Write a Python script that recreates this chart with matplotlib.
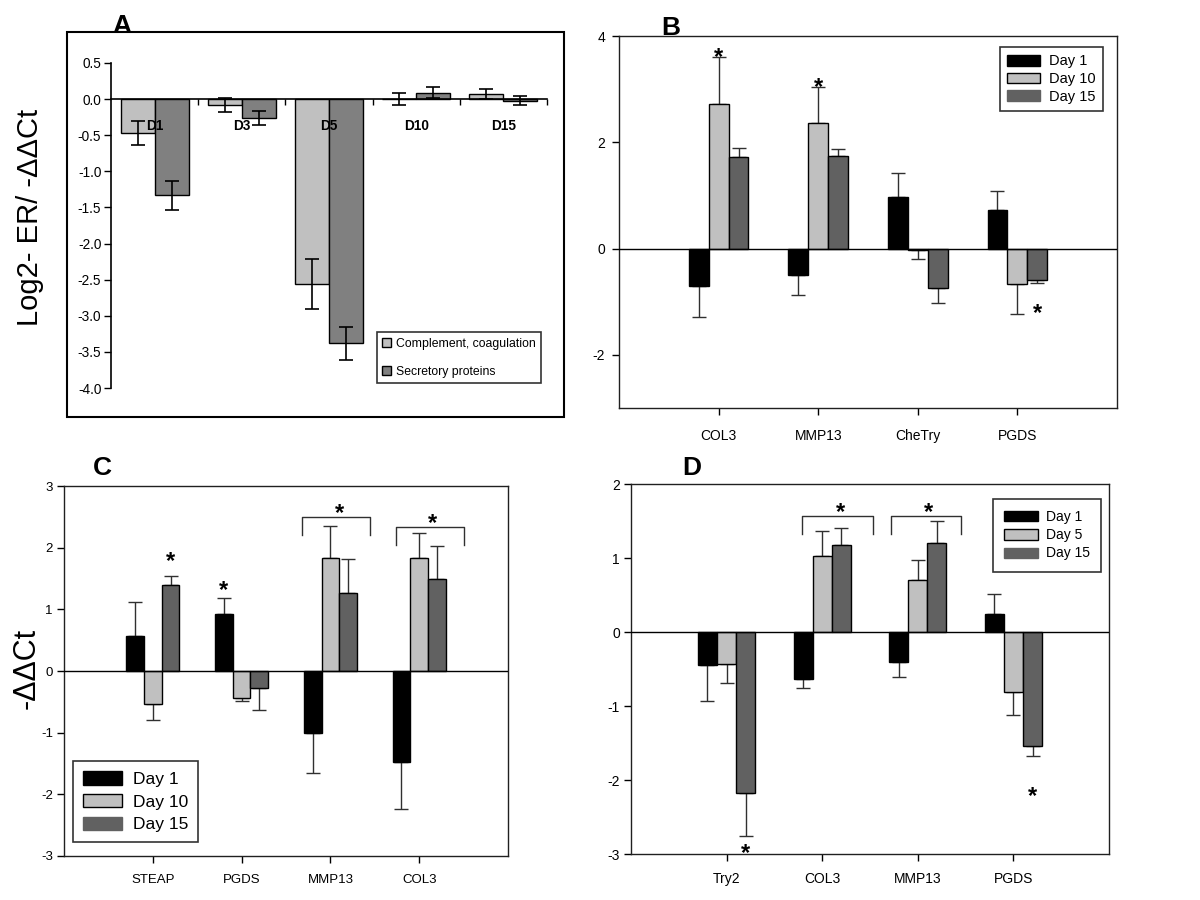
import matplotlib
matplotlib.use('Agg')
import matplotlib.pyplot as plt
from matplotlib.patches import Rectangle, Patch
from matplotlib.ticker import FixedLocator, FormatStrFormatter
import numpy as np

FONT = ['Liberation Sans', 'DejaVu Sans']
plt.rcParams['font.family'] = FONT
plt.rcParams['axes.unicode_minus'] = False

# ---------------- Data ----------------
# Panel A
a_days = ['D1', 'D3', 'D5', 'D10', 'D15']
a_series = ['Complement, coagulation', 'Secretory proteins']
a_complement = [-0.47, -0.08, -2.56, 0.00, 0.07]
a_complement_err = [0.16, 0.10, 0.34, 0.08, 0.07]
a_secretory = [-1.33, -0.26, -3.38, 0.09, -0.02]
a_secretory_err = [0.20, 0.10, 0.23, 0.08, 0.06]

# Panel B
b_genes = ['COL3', 'MMP13', 'CheTry', 'PGDS']
b_labels = ['Day 1', 'Day 10', 'Day 15']
b_day1 = [-0.70, -0.50, 0.97, 0.73]
b_day1_err = [0.58, 0.38, 0.45, 0.36]
b_day10 = [2.72, 2.37, -0.02, -0.67]
b_day10_err = [0.89, 0.67, 0.17, 0.56]
b_day15 = [1.73, 1.75, -0.75, -0.60]
b_day15_err = [0.17, 0.12, 0.28, 0.04]
b_stars = [(0, 1, 3.72), (1, 1, 3.16), (3, 2, -1.09)]

# Panel C
c_genes = ['STEAP', 'PGDS', 'MMP13', 'COL3']
c_labels = ['Day 1', 'Day 10', 'Day 15']
c_day1 = [0.57, 0.92, -1.01, -1.47]
c_day1_err = [0.55, 0.27, 0.64, 0.76]
c_day10 = [-0.54, -0.44, 1.83, 1.83]
c_day10_err = [0.25, 0.05, 0.52, 0.40]
c_day15 = [1.39, -0.27, 1.27, 1.49]
c_day15_err = [0.15, 0.36, 0.55, 0.53]
c_stars = [(0, 2, 1.89), (1, 0, 1.42)]
c_brackets = [(2.68, 3.45, 2.50, 2.20, 3.10, 2.67),
              (3.735, 4.50, 2.34, 2.04, 4.15, 2.50)]

# Panel D
d_genes = ['Try2', 'COL3', 'MMP13', 'PGDS']
d_labels = ['Day 1', 'Day 5', 'Day 15']
d_day1 = [-0.45, -0.63, -0.40, 0.25]
d_day1_err = [0.48, 0.13, 0.21, 0.27]
d_day5 = [-0.43, 1.03, 0.70, -0.81]
d_day5_err = [0.26, 0.34, 0.27, 0.31]
d_day15 = [-2.17, 1.18, 1.20, -1.54]
d_day15_err = [0.58, 0.22, 0.30, 0.14]
d_stars = [(0, 2, -2.90), (3, 2, -2.13)]
d_brackets = [(1.79, 2.535, 1.57, 1.32, 2.19, 1.71),
              (2.72, 3.45, 1.57, 1.32, 3.11, 1.71)]

# ---------------- Style ----------------
C_BLACK = '#000000'
C_LIGHT = '#c0c0c0'
C_DARK = '#616161'
A_LIGHT = '#c0c0c0'
A_DARK = '#808080'
ERR_C = '#303030'
STAR_FS = 17

fig = plt.figure(figsize=(12, 9), dpi=100)
W, H = 1200.0, 900.0


def ax_px(left, top, right, bottom):
    return fig.add_axes([left / W, 1 - bottom / H, (right - left) / W, (bottom - top) / H])


def star(ax, x, y, fs=STAR_FS):
    ax.annotate('*', xy=(x, y), xytext=(0, -0.57 * fs), textcoords='offset points',
                ha='center', va='baseline', fontsize=fs, fontweight='bold', zorder=6)


# ---------------- Panel A ----------------
axA = ax_px(111, 63, 547, 388)
axA.set_axisbelow(False)
xa = np.arange(len(a_days)) + 0.5
bw = 0.39
axA.bar(xa - bw / 2, a_complement, bw, color=A_LIGHT, edgecolor='black', linewidth=1.0, zorder=2)
axA.bar(xa + bw / 2, a_secretory, bw, color=A_DARK, edgecolor='black', linewidth=1.0, zorder=2)
axA.errorbar(xa - bw / 2, a_complement, yerr=a_complement_err, fmt='none', ecolor='black',
             elinewidth=1.2, capsize=5, capthick=1.2, zorder=3)
axA.errorbar(xa + bw / 2, a_secretory, yerr=a_secretory_err, fmt='none', ecolor='black',
             elinewidth=1.2, capsize=5, capthick=1.2, zorder=3)
axA.set_xlim(0, len(a_days))
axA.set_ylim(-4.0, 0.5)
for s in ['top', 'right']:
    axA.spines[s].set_visible(False)
axA.spines['bottom'].set_position(('data', 0))
axA.spines['left'].set_linewidth(1.2)
axA.spines['bottom'].set_linewidth(1.2)
axA.set_yticks(np.arange(-4.0, 0.51, 0.5))
axA.yaxis.set_major_formatter(FormatStrFormatter('%.1f'))
axA.tick_params(axis='y', direction='out', length=5, width=1, pad=2, labelsize=9.8)
axA.xaxis.set_major_locator(FixedLocator(np.arange(1, len(a_days) + 1)))
axA.tick_params(axis='x', which='major', direction='out', length=4, width=1, labelbottom=False)
axA.set_xticks(xa, a_days, minor=True)
axA.tick_params(axis='x', which='minor', length=0, pad=14, labelsize=9.8)
for lab in axA.get_xticklabels(minor=True):
    lab.set_fontweight('bold')
axA.set_facecolor('none')
hA = [Patch(facecolor=A_LIGHT, edgecolor='black', linewidth=1.0),
      Patch(facecolor=A_DARK, edgecolor='black', linewidth=1.0)]
legA = axA.legend(hA, a_series, loc='lower right',
                  bbox_to_anchor=((541 - 111) / 436, (388 - 383) / 325), borderaxespad=0.0,
                  frameon=True, fancybox=False, handlelength=0.75, handleheight=0.75,
                  handletextpad=0.35, labelspacing=1.3, borderpad=0.45, fontsize=8.8)
legA.get_frame().set_edgecolor('black')
legA.get_frame().set_linewidth(1.2)
legA.set_zorder(10)

fig.add_artist(Rectangle((67 / W, 1 - 417 / H), (564 - 67) / W, (417 - 32) / H,
                         transform=fig.transFigure, fill=False, edgecolor='black', linewidth=1.5))
fig.text(30 / W, 1 - 217 / H, 'Log2- ER/ -\u0394\u0394Ct', rotation=90, ha='center', va='center',
         fontsize=21)


# ---------------- Grouped panels ----------------
def grouped(ax, genes, series, errs, ylim, yticks, stars, brackets, tick_fs, tick_pad_x, tick_pad_y):
    n = len(genes)
    xg = np.arange(1, n + 1)
    colors = [C_BLACK, C_LIGHT, C_DARK]
    w = 0.2
    for j, (vals, er) in enumerate(zip(series, errs)):
        xs = xg + (j - 1) * w
        vals = np.asarray(vals)
        er = np.asarray(er)
        ax.bar(xs, vals, w, color=colors[j], edgecolor='black', linewidth=1.0, zorder=2)
        lower = np.where(vals < 0, er, 0)
        upper = np.where(vals >= 0, er, 0)
        ax.errorbar(xs, vals, yerr=[lower, upper], fmt='none', ecolor=ERR_C, elinewidth=1.0,
                    capsize=5, capthick=1.0, zorder=1)
    ax.axhline(0, color='black', linewidth=1.0, zorder=3)
    ax.set_xlim(0, n + 1)
    ax.set_ylim(*ylim)
    ax.set_xticks(xg, genes)
    ax.set_yticks(yticks)
    ax.tick_params(axis='x', direction='out', length=5, width=1, pad=tick_pad_x, labelsize=tick_fs)
    ax.tick_params(axis='y', direction='out', length=5, width=1, pad=tick_pad_y, labelsize=tick_fs)
    for s in ax.spines.values():
        s.set_linewidth(1.0)
        s.set_color('#202020')
    for (gi, sj, y) in stars:
        star(ax, xg[gi] + (sj - 1) * w, y)
    for (x0, x1, yt, yl, sx, sy) in brackets:
        ax.plot([x0, x0, x1, x1], [yl, yt, yt, yl], color='#303030', linewidth=1.0, zorder=4)
        star(ax, sx, sy)


def make_legend(ax, labels, fs, loc, anchor, hl, hh, ls, bp):
    colors = [C_BLACK, C_LIGHT, C_DARK]
    edges = ['black', 'black', C_DARK]
    handles = [Patch(facecolor=c, edgecolor=e, linewidth=1.0) for c, e in zip(colors, edges)]
    leg = ax.legend(handles, labels, loc=loc, bbox_to_anchor=anchor, frameon=True, fancybox=False,
                    fontsize=fs, handlelength=hl, handleheight=hh, handletextpad=0.6,
                    labelspacing=ls, borderpad=bp, borderaxespad=0.0)
    leg.get_frame().set_edgecolor('black')
    leg.get_frame().set_linewidth(1.2)
    return leg


# Panel B
axB = ax_px(619, 36, 1117, 408)
grouped(axB, b_genes, [b_day1, b_day10, b_day15], [b_day1_err, b_day10_err, b_day15_err],
        (-3, 4), [-2, 0, 2, 4], b_stars, [], 10, 10, 5)
make_legend(axB, b_labels, 10.5, 'upper right', ((1103 - 619) / 498, 1 - (47 - 36) / 372),
            2.3, 0.75, 0.25, 0.5)

# Panel C
axC = ax_px(64, 486, 508, 856)
grouped(axC, c_genes, [c_day1, c_day10, c_day15], [c_day1_err, c_day10_err, c_day15_err],
        (-3, 3), np.arange(-3, 4, 1), c_stars, c_brackets, 9.5, 8, 3)
make_legend(axC, c_labels, 12.5, 'lower left', ((73 - 64) / 444, (856 - 842) / 370),
            2.3, 0.85, 0.4, 0.55)
fig.text(27 / W, 1 - 668 / H, '-\u0394\u0394Ct', rotation=90, ha='center', va='center', fontsize=22)

# Panel D
axD = ax_px(631, 484, 1109, 854)
grouped(axD, d_genes, [d_day1, d_day5, d_day15], [d_day1_err, d_day5_err, d_day15_err],
        (-3, 2), np.arange(-3, 3, 1), d_stars, d_brackets, 10, 8, 3)
make_legend(axD, d_labels, 10, 'upper right', ((1101 - 631) / 478, 1 - (499 - 484) / 370),
            2.4, 0.75, 0.3, 0.8)

# Panel letters
for letter, x, yb in [('A', 122, 33), ('B', 671, 35), ('C', 102, 475), ('D', 692, 475)]:
    fig.text(x / W, 1 - yb / H, letter, ha='center', va='baseline', fontsize=19, fontweight='bold')

fig.savefig('out.png', dpi=100, facecolor='white')
